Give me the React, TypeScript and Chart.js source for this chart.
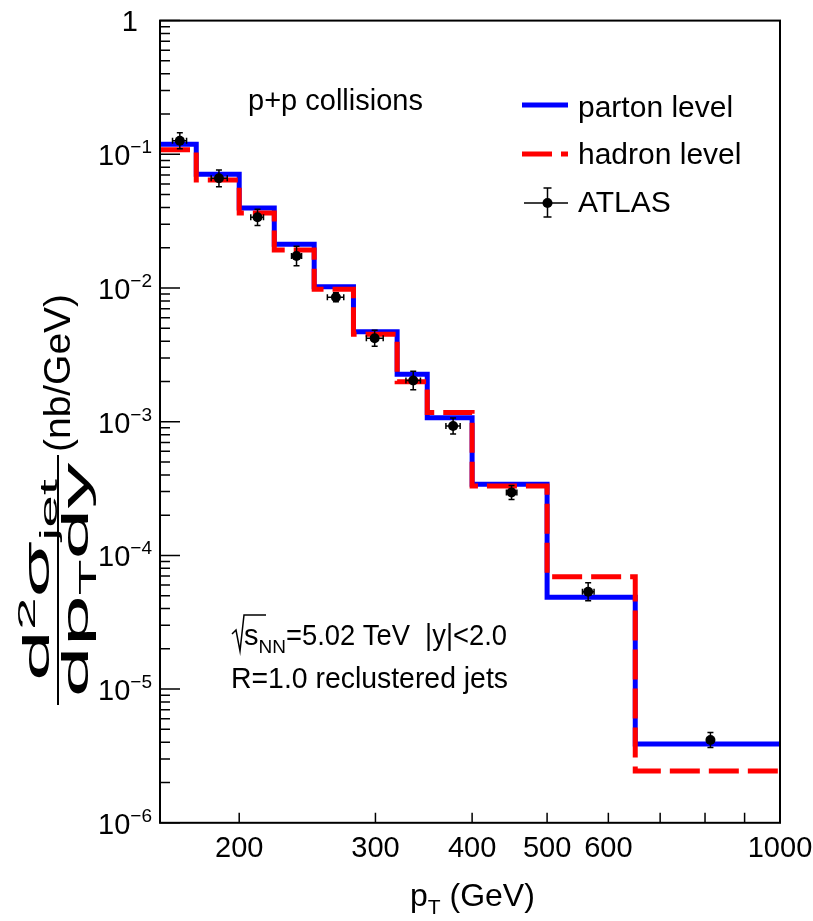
import React, { useEffect, useRef } from 'react';
import { Chart, registerables } from 'chart.js';

Chart.register(...registerables);

// ---------- data ----------
const binEdges = [158, 176, 200, 222, 250, 281, 320, 350, 400, 500, 650, 1000];
const partonLevel = [0.119, 0.0709, 0.0397, 0.0212, 0.0102, 0.00471, 0.00226, 0.00107, 3.4e-4, 4.86e-5, 3.88e-6];
const hadronLevel = [0.108, 0.0642, 0.0364, 0.0192, 0.00978, 0.00451, 0.00199, 0.00117, 3.31e-4, 6.93e-5, 2.44e-6];

const atlasPt = [167.6, 188.3, 211.2, 237.2, 266.7, 299.3, 335.7, 378, 449.8, 565, 813];
const atlasXsec = [0.1264, 0.0661, 0.0338, 0.01735, 0.00852, 0.00421, 0.00203, 9.29e-4, 2.96e-4, 5.35e-5, 4.16e-6];
const atlasXsecLow = [0.11, 0.0573, 0.0294, 0.01468, 0.00789, 0.00367, 0.00173, 8.09e-4, 2.62e-4, 4.58e-5, 3.66e-6];
const atlasXsecHigh = [0.145, 0.0763, 0.0388, 0.0205, 0.0092, 0.00483, 0.00238, 1.066e-3, 3.34e-4, 6.25e-5, 4.73e-6];
const atlasPtLow = [164, 184, 207, 233.7, 260, 292, 328.5, 370, 443, 555.5, 806];
const atlasPtHigh = [171, 193, 215, 240.8, 273, 307, 343, 386, 457, 575, 820];

const xTickLabels = [200, 300, 400, 500, 600, 1000];
const xTickMarks = [200, 300, 400, 500, 600, 700, 800, 900];
const yTickExponents = [0, -1, -2, -3, -4, -5, -6];

const FONT = '"Liberation Sans", Arial, Helvetica, sans-serif';

function stepData(values: number[]) {
  return binEdges.map((e, i) => ({ x: e, y: values[Math.min(i, values.length - 1)] }));
}

function font(size: number) {
  return `${size}px ${FONT}`;
}

function txt(ctx: CanvasRenderingContext2D, s: string, x: number, y: number, size: number, align: CanvasTextAlign = 'left') {
  ctx.font = font(size);
  ctx.textAlign = align;
  ctx.textBaseline = 'alphabetic';
  ctx.fillText(s, x, y);
  return ctx.measureText(s).width;
}

function tw(ctx: CanvasRenderingContext2D, s: string, size: number) {
  ctx.font = font(size);
  return ctx.measureText(s).width;
}

// text squeezed horizontally to a given width
function txtFit(ctx: CanvasRenderingContext2D, s: string, x: number, y: number, size: number, width: number) {
  const w = tw(ctx, s, size);
  ctx.save();
  ctx.translate(x, y);
  ctx.scale(width / w, 1);
  txt(ctx, s, 0, 0, size);
  ctx.restore();
  return width;
}

const decorPlugin = {
  id: 'decor',
  afterDatasetsDraw(chart: any) {
    const ctx: CanvasRenderingContext2D = chart.ctx;
    const xs = chart.scales.x;
    const ys = chart.scales.y;
    const { left, right, top, bottom } = chart.chartArea;
    ctx.save();
    ctx.fillStyle = '#000';
    ctx.strokeStyle = '#000';

    // ATLAS error bars
    ctx.lineWidth = 1.5;
    for (let i = 0; i < atlasPt.length; i++) {
      const px = xs.getPixelForValue(atlasPt[i]);
      const py = ys.getPixelForValue(atlasXsec[i]);
      const yl = ys.getPixelForValue(atlasXsecLow[i]);
      const yh = ys.getPixelForValue(atlasXsecHigh[i]);
      const xl = xs.getPixelForValue(atlasPtLow[i]);
      const xh = xs.getPixelForValue(atlasPtHigh[i]);
      ctx.beginPath();
      ctx.moveTo(px, yl); ctx.lineTo(px, yh);
      ctx.moveTo(px - 3, yl); ctx.lineTo(px + 3, yl);
      ctx.moveTo(px - 3, yh); ctx.lineTo(px + 3, yh);
      ctx.moveTo(xl, py); ctx.lineTo(xh, py);
      ctx.moveTo(xl, py - 3); ctx.lineTo(xl, py + 3);
      ctx.moveTo(xh, py - 3); ctx.lineTo(xh, py + 3);
      ctx.stroke();
    }

    // frame
    ctx.lineWidth = 2;
    ctx.strokeRect(left, top, right - left, bottom - top);

    // y ticks
    ctx.lineWidth = 1.5;
    ctx.beginPath();
    for (const e of yTickExponents) {
      const yp = ys.getPixelForValue(Math.pow(10, e));
      ctx.moveTo(left, yp); ctx.lineTo(left + 20, yp);
      if (e > -6) {
        for (let m = 2; m <= 9; m++) {
          const ym = ys.getPixelForValue(m * Math.pow(10, e - 1));
          ctx.moveTo(left, ym); ctx.lineTo(left + 10, ym);
        }
      }
    }
    // x ticks
    for (const v of xTickMarks) {
      const xp = xs.getPixelForValue(v);
      ctx.moveTo(xp, bottom); ctx.lineTo(xp, bottom - 10);
    }
    ctx.stroke();

    // y tick labels
    for (const e of yTickExponents) {
      const yp = ys.getPixelForValue(Math.pow(10, e));
      if (e === 0) {
        txt(ctx, '1', 138, yp + 10, 29, 'right');
      } else {
        ctx.font = font(19);
        const sup = '\u2212' + String(-e);
        const wSup = ctx.measureText(sup).width;
        const xr = 152;
        txt(ctx, sup, xr, yp - 1, 19, 'right');
        txt(ctx, '10', xr - wSup, yp + 11, 29, 'right');
      }
    }

    // x tick labels
    for (const v of xTickLabels) {
      const xp = xs.getPixelForValue(v);
      txt(ctx, String(v), xp, 857, 29, 'center');
    }

    // x title
    {
      let x = 410;
      x += txt(ctx, 'p', x, 906, 32);
      x += txt(ctx, 'T', x, 914, 21);
      txt(ctx, ' (GeV)', x, 906, 32);
    }

    // y title (rotated)
    {
      const bigF = 36;
      const smallF = 23;
      const numW = tw(ctx, 'd', bigF) + tw(ctx, '2', smallF) + tw(ctx, '\u03c3', bigF) + tw(ctx, 'jet', smallF);
      const denW = tw(ctx, 'dp', bigF) + tw(ctx, 'T', smallF) + tw(ctx, 'dy', bigF);
      const fracLen = 250;
      const sFrac = fracLen / (Math.max(numW, denW) + 6);
      ctx.save();
      ctx.translate(58, 705);
      ctx.rotate(-Math.PI / 2);
      ctx.save();
      ctx.scale(sFrac, 1);
      let u = (Math.max(numW, denW) + 6 - numW) / 2;
      u += txt(ctx, 'd', u, -9, bigF);
      u += txt(ctx, '2', u, -23, smallF);
      u += txt(ctx, '\u03c3', u, -9, bigF);
      u += txt(ctx, 'jet', u, -1, smallF);
      let d = (Math.max(numW, denW) + 6 - denW) / 2;
      d += txt(ctx, 'dp', d, 30, bigF);
      d += txt(ctx, 'T', d, 38, smallF);
      d += txt(ctx, 'dy', d, 30, bigF);
      ctx.restore();
      ctx.lineWidth = 2;
      ctx.beginPath();
      ctx.moveTo(0, 0); ctx.lineTo(fracLen, 0);
      ctx.stroke();
      const unitW = tw(ctx, '(nb/GeV)', bigF);
      ctx.save();
      ctx.translate(fracLen + 3, 0);
      ctx.scale(158 / unitW, 1);
      txt(ctx, '(nb/GeV)', 0, 12, bigF);
      ctx.restore();
      ctx.restore();
    }

    // p+p collisions
    txt(ctx, 'p+p collisions', 248, 110, 29);

    // sqrt(s_NN) text
    {
      const y0 = 645;
      ctx.lineWidth = 1.5;
      ctx.beginPath();
      ctx.moveTo(232, 634); ctx.lineTo(236, 630); ctx.lineTo(240, 651); ctx.lineTo(244, 615); ctx.lineTo(266, 615);
      ctx.stroke();
      let x = 244;
      x += txt(ctx, 's', x, y0, 29);
      x += txt(ctx, 'NN', x, y0 + 8, 19);
      txtFit(ctx, '=5.02 TeV  |y|<2.0', x, y0, 29, 507 - x);
      txtFit(ctx, 'R=1.0 reclustered jets', 231, 688, 29, 277);
    }

    // legend
    ctx.lineWidth = 5;
    ctx.strokeStyle = '#0000ff';
    ctx.beginPath(); ctx.moveTo(522, 105); ctx.lineTo(568, 105); ctx.stroke();
    ctx.strokeStyle = '#ff0000';
    ctx.setLineDash([30, 9]);
    ctx.beginPath(); ctx.moveTo(522, 154); ctx.lineTo(568, 154); ctx.stroke();
    ctx.setLineDash([]);
    ctx.strokeStyle = '#000';
    ctx.lineWidth = 1.5;
    ctx.beginPath();
    ctx.moveTo(524, 203); ctx.lineTo(568, 203);
    ctx.moveTo(547.5, 188); ctx.lineTo(547.5, 217);
    ctx.moveTo(543.5, 188); ctx.lineTo(551.5, 188);
    ctx.moveTo(543.5, 217); ctx.lineTo(551.5, 217);
    ctx.stroke();
    ctx.beginPath(); ctx.arc(547.5, 203, 5, 0, Math.PI * 2); ctx.fill();
    ctx.fillStyle = '#000';
    txt(ctx, 'parton level', 578, 117, 30);
    txt(ctx, 'hadron level', 578, 164, 30);
    txt(ctx, 'ATLAS', 578, 212, 30);

    ctx.restore();
  },
};

export default function App() {
  const ref = useRef<HTMLCanvasElement>(null);
  useEffect(() => {
    document.body.style.margin = '0';
    const canvas = ref.current!;
    const chart = new Chart(canvas, {
      type: 'line',
      data: {
        datasets: [
          {
            label: 'ATLAS',
            data: atlasPt.map((x, i) => ({ x, y: atlasXsec[i] })),
            showLine: false,
            pointRadius: 5,
            pointBackgroundColor: '#000',
            pointBorderColor: '#000',
            pointBorderWidth: 0,
            order: 0,
          },
          {
            label: 'hadron level',
            data: stepData(hadronLevel),
            stepped: 'before',
            borderColor: '#ff0000',
            borderWidth: 5,
            borderDash: [30, 9],
            pointRadius: 0,
            fill: false,
            order: 1,
          },
          {
            label: 'parton level',
            data: stepData(partonLevel),
            stepped: 'before',
            borderColor: '#0000ff',
            borderWidth: 5,
            pointRadius: 0,
            fill: false,
            order: 2,
          },
        ],
      },
      options: {
        animation: false,
        responsive: false,
        maintainAspectRatio: false,
        layout: { padding: { left: 160, right: 33, top: 20.6, bottom: 98.2 } },
        plugins: { legend: { display: false }, tooltip: { enabled: false } },
        scales: {
          x: { type: 'logarithmic', min: 158, max: 1000, display: false },
          y: { type: 'logarithmic', min: 1e-6, max: 1, display: false },
        },
      },
      plugins: [decorPlugin],
    });
    return () => chart.destroy();
  }, []);
  return (
    <div style={{ width: 813, height: 921, background: '#fff' }}>
      <canvas ref={ref} width={813} height={921} style={{ display: 'block' }} />
    </div>
  );
}
